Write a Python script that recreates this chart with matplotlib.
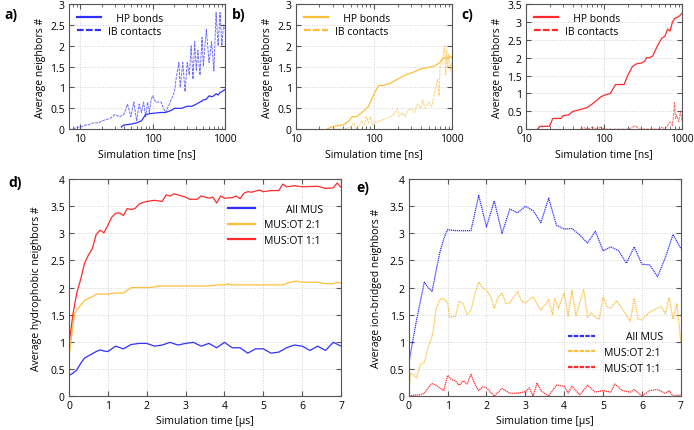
import numpy as np
import matplotlib
matplotlib.use("Agg")
import matplotlib.pyplot as plt
from matplotlib.ticker import MultipleLocator, NullFormatter

plt.rcParams['font.family'] = ['Open Sans', 'DejaVu Sans']
plt.rcParams['font.size'] = 7.5

BLUE = '#3030ff'
ORANGE = '#fdbf3a'
RED = '#ff2a2a'

# ---- panel a (All MUS, log time in ns)
a_hp_t = [37, 40, 50, 60, 70, 80, 90, 100, 130, 150, 180, 200, 250, 300, 350, 400, 450, 500,
          550, 600, 650, 700, 750, 800, 850, 900, 950, 1000]
a_hp_v = [0.05, 0.1, 0.12, 0.15, 0.2, 0.35, 0.37, 0.38, 0.4, 0.4, 0.45, 0.5, 0.5, 0.55, 0.55,
          0.6, 0.65, 0.7, 0.72, 0.8, 0.78, 0.8, 0.85, 0.82, 0.88, 0.9, 0.93, 0.95]
a_ib_t = [8, 9, 10, 12, 13, 15, 18, 20, 25, 28, 30, 35, 40, 45, 50, 55, 60, 65, 70, 75, 80,
          85, 90, 95, 100, 110, 130, 150, 170, 200, 210, 230, 240, 260, 280, 300, 320, 340,
          360, 380, 400, 420, 450, 480, 500, 550, 600, 650, 700, 750, 800, 850, 900, 950, 1000]
a_ib_v = [0.0, 0.05, 0.05, 0.1, 0.1, 0.15, 0.15, 0.2, 0.25, 0.3, 0.35, 0.3, 0.35, 0.6, 0.3,
          0.65, 0.2, 0.6, 0.4, 0.65, 0.3, 0.65, 0.4, 0.7, 0.8, 0.65, 0.65, 0.4, 0.6, 0.9, 1.2,
          1.6, 1.0, 1.6, 0.9, 1.6, 1.3, 2.0, 1.2, 2.1, 1.4, 1.9, 1.3, 2.2, 1.5, 2.4, 1.6, 2.1,
          1.4, 2.8, 2.0, 2.8, 2.0, 2.5, 2.4]

# ---- panel b (MUS:OT 2:1)
b_hp_t = [25, 28, 32, 40, 48, 52, 60, 65, 75, 85, 95, 100, 115, 130, 160, 200, 250, 300, 350,
          400, 500, 600, 700, 750, 850, 900, 950, 1000]
b_hp_v = [0.0, 0.05, 0.08, 0.1, 0.2, 0.3, 0.3, 0.35, 0.45, 0.55, 0.75, 0.85, 1.05, 1.05, 1.1,
          1.2, 1.3, 1.35, 1.4, 1.45, 1.48, 1.52, 1.6, 1.7, 1.72, 1.7, 1.75, 1.7]
b_ib_t = [30, 40, 50, 55, 60, 65, 70, 75, 80, 85, 90, 95, 100, 120, 140, 160, 180, 200, 210,
          230, 250, 270, 300, 330, 360, 400, 420, 450, 500, 550, 600, 650, 680, 700, 750, 800,
          830, 850, 880, 900, 950, 980, 1000]
b_ib_v = [0.0, 0.0, 0.05, 0.15, 0.0, 0.1, 0.2, 0.1, 0.3, 0.15, 0.3, 0.1, 0.15, 0.2, 0.25, 0.3,
          0.35, 0.5, 0.3, 0.4, 0.3, 0.45, 0.5, 0.4, 0.6, 0.5, 0.7, 0.5, 0.65, 0.55, 0.9, 1.2,
          0.8, 1.5, 1.6, 2.0, 1.3, 1.9, 1.5, 1.8, 1.4, 1.6, 1.0]

# ---- panel c (MUS:OT 1:1)
c_hp_t = [14, 15, 20, 22, 28, 30, 35, 40, 50, 60, 70, 80, 90, 100, 120, 140, 180, 200, 230,
          260, 300, 330, 350, 380, 420, 450, 500, 550, 600, 650, 700, 750, 800, 900, 950, 1000]
c_hp_v = [0.0, 0.08, 0.08, 0.3, 0.3, 0.38, 0.4, 0.5, 0.55, 0.6, 0.7, 0.8, 0.9, 0.95, 1.0,
          1.25, 1.25, 1.5, 1.75, 1.83, 1.85, 1.9, 2.0, 2.0, 2.05, 2.2, 2.4, 2.55, 2.6, 2.8,
          2.75, 3.0, 3.1, 3.15, 3.2, 3.25]
c_ib_t = [50, 55, 60, 70, 80, 90, 100, 200, 230, 250, 280, 500, 550, 600, 650, 700, 750, 800,
          820, 850, 900, 950, 1000]
c_ib_v = [0.0, 0.05, 0.0, 0.05, 0.0, 0.05, 0.0, 0.0, 0.05, 0.1, 0.0, 0.0, 0.05, 0.0, 0.1,
          0.2, 0.1, 0.75, 0.3, 0.4, 0.2, 0.5, 0.2]

# ---- panel d (hydrophobic neighbors, time in us)
d_all_t = [0, 0.1, 0.2, 0.3, 0.4, 0.5, 0.6, 0.7, 0.8, 0.9, 1.0, 1.2, 1.4, 1.6, 1.8, 2.0, 2.2,
           2.4, 2.6, 2.8, 3.0, 3.2, 3.4, 3.6, 3.8, 4.0, 4.2, 4.4, 4.6, 4.8, 5.0, 5.2, 5.4, 5.6,
           5.8, 6.0, 6.2, 6.4, 6.6, 6.8, 7.0]
d_all_v = [0.38, 0.42, 0.48, 0.6, 0.7, 0.74, 0.78, 0.82, 0.85, 0.83, 0.82, 0.92, 0.87, 0.95,
           0.97, 0.97, 0.92, 0.94, 0.99, 0.94, 0.97, 0.99, 0.92, 0.97, 0.89, 0.99, 0.89, 0.89,
           0.79, 0.87, 0.87, 0.79, 0.81, 0.89, 0.94, 0.92, 0.84, 0.92, 0.84, 0.99, 0.92]
d_21_t = [0, 0.1, 0.15, 0.2, 0.3, 0.4, 0.5, 0.6, 0.7, 0.8, 1.0, 1.2, 1.4, 1.6, 1.8, 2.0, 2.2,
          2.3, 2.6, 3.0, 3.6, 3.8, 4.0, 4.1, 4.2, 5.0, 5.5, 5.7, 5.85, 6.0, 6.4, 6.6, 6.8, 6.9, 7.0]
d_21_v = [0.72, 1.3, 1.53, 1.58, 1.68, 1.76, 1.8, 1.83, 1.88, 1.88, 1.88, 1.9, 1.9, 2.0, 2.0,
          2.0, 2.01, 2.03, 2.03, 2.03, 2.03, 2.05, 2.05, 2.07, 2.05, 2.05, 2.05, 2.1, 2.12, 2.1,
          2.1, 2.07, 2.07, 2.1, 2.08]
d_11_t = [0, 0.1, 0.2, 0.3, 0.4, 0.5, 0.6, 0.7, 0.8, 0.9, 1.0, 1.1, 1.2, 1.3, 1.4, 1.5, 1.6,
          1.7, 1.8, 1.9, 2.0, 2.2, 2.4, 2.5, 2.6, 2.7, 2.8, 3.0, 3.1, 3.3, 3.4, 3.6, 3.7, 3.8,
          3.9, 4.0, 4.2, 4.3, 4.4, 4.5, 4.6, 4.7, 4.9, 5.0, 5.2, 5.4, 5.5, 5.6, 5.8, 6.0, 6.4,
          6.6, 6.8, 6.9, 7.0]
d_11_v = [0.95, 1.5, 1.9, 2.15, 2.45, 2.6, 2.72, 2.98, 3.06, 3.01, 3.15, 3.3, 3.37, 3.38,
          3.33, 3.46, 3.44, 3.46, 3.54, 3.57, 3.59, 3.61, 3.59, 3.71, 3.69, 3.73, 3.71, 3.67,
          3.63, 3.63, 3.69, 3.65, 3.67, 3.56, 3.69, 3.65, 3.66, 3.69, 3.64, 3.74, 3.77, 3.76,
          3.8, 3.77, 3.79, 3.79, 3.91, 3.86, 3.88, 3.86, 3.87, 3.83, 3.84, 3.93, 3.85]

# ---- panel e (ion-bridged neighbors)
e_all_t = [0, 0.1, 0.2, 0.3, 0.4, 0.5, 0.6, 0.7, 0.8, 0.9, 1.0, 1.2, 1.4, 1.6, 1.8, 2.0, 2.2,
           2.4, 2.6, 2.8, 3.0, 3.2, 3.4, 3.6, 3.8, 4.0, 4.2, 4.4, 4.6, 4.8, 5.0, 5.2, 5.4, 5.6,
           5.8, 6.0, 6.2, 6.4, 6.6, 6.8, 7.0]
e_all_v = [0.6, 1.0, 1.4, 1.75, 2.1, 2.0, 1.93, 2.3, 2.65, 2.9, 3.07, 3.05, 3.05, 3.05, 3.7,
           3.12, 3.6, 3.0, 3.45, 3.38, 3.5, 3.42, 3.2, 3.65, 3.15, 3.08, 3.09, 2.97, 2.82, 3.04,
           2.68, 2.75, 2.68, 2.45, 2.75, 2.43, 2.42, 2.2, 2.55, 2.98, 2.72]
e_21_t = [0, 0.05, 0.1, 0.2, 0.3, 0.4, 0.5, 0.6, 0.65, 0.7, 0.8, 0.9, 1.0, 1.05, 1.2, 1.3, 1.4,
          1.5, 1.6, 1.7, 1.8, 1.9, 2.0, 2.1, 2.2, 2.3, 2.4, 2.5, 2.6, 2.8, 2.9, 3.0, 3.2, 3.4,
          3.6, 3.7, 3.75, 3.85, 3.9, 4.0, 4.1, 4.2, 4.3, 4.4, 4.5, 4.6, 4.7, 4.8, 4.9, 5.0, 5.1,
          5.2, 5.35, 5.5, 5.7, 5.8, 5.9, 6.0, 6.2, 6.4, 6.5, 6.6, 6.7, 6.8, 6.9, 7.0]
e_21_v = [0.1, 0.42, 0.4, 0.34, 0.58, 0.62, 0.9, 1.1, 1.3, 1.6, 1.78, 1.8, 1.72, 1.45, 1.47,
          1.75, 1.7, 1.5, 1.58, 1.88, 2.1, 2.0, 1.95, 1.85, 1.62, 1.82, 1.9, 1.7, 1.72, 1.93,
          1.75, 1.72, 1.83, 1.58, 1.78, 1.5, 1.8, 1.62, 1.72, 1.9, 1.48, 1.95, 1.48, 1.72, 1.97,
          1.45, 1.53, 1.45, 1.42, 1.82, 1.65, 1.62, 1.76, 1.6, 1.38, 1.8, 1.42, 1.4, 1.55, 1.62,
          1.65, 1.52, 1.82, 1.42, 1.7, 1.0]
e_11_t = [0, 0.2, 0.3, 0.4, 0.5, 0.6, 0.7, 0.8, 0.9, 1.0, 1.1, 1.2, 1.3, 1.4, 1.5, 1.6, 1.7,
          1.8, 1.9, 2.0, 2.2, 2.4, 2.6, 2.8, 3.0, 3.1, 3.2, 3.3, 3.4, 3.6, 3.8, 4.0, 4.1, 4.2,
          4.4, 4.6, 4.8, 5.0, 5.2, 5.3, 5.5, 5.7, 5.8, 6.0, 6.2, 6.4, 6.6, 6.7, 6.8, 7.0]
e_11_v = [0.0, 0.02, 0.02, 0.05, 0.15, 0.23, 0.2, 0.15, 0.1, 0.38, 0.3, 0.28, 0.2, 0.28, 0.22,
          0.4, 0.22, 0.1, 0.17, 0.15, 0.0, 0.14, 0.05, 0.05, 0.08, 0.15, 0.0, 0.24, 0.1, 0.0,
          0.2, 0.18, 0.05, 0.18, 0.02, 0.2, 0.07, 0.1, 0.07, 0.22, 0.1, 0.07, 0.12, 0.0, 0.1,
          0.12, 0.05, 0.1, 0.0, 0.02]

fmt = plt.FuncFormatter(lambda v, p: '%g' % v)


def style(ax):
    ax.tick_params(which='both', direction='in', top=True, right=True, labelsize=7.5,
                   color='#555555', pad=3)
    ax.grid(True, color='#d0d0d0', linestyle=':', linewidth=0.7)
    for s in ax.spines.values():
        s.set_color('#555555')
        s.set_linewidth(0.8)


fig = plt.figure(figsize=(6.94, 4.31), dpi=100)

tops = [(0.0994, 'a)', a_hp_t, a_hp_v, a_ib_t, a_ib_v, BLUE, 7, 3.0),
        (0.4265, 'b)', b_hp_t, b_hp_v, b_ib_t, b_ib_v, ORANGE, 10, 3.0),
        (0.758, 'c)', c_hp_t, c_hp_v, c_ib_t, c_ib_v, RED, 10, 3.5)]
for left, lab, ht, hv, it, iv, col, x0, ymax in tops:
    ax = fig.add_axes([left, 0.698, 0.225, 0.29])
    ax.plot(ht, hv, color=col, lw=0.9, label='   HP bonds')
    ax.plot(it, iv, color=col, lw=0.7, ls=(0, (3, 1)), alpha=0.7, label='IB contacts')
    ax.set_xscale('log')
    ax.set_xlim(x0, 1000)
    ax.set_ylim(0, ymax)
    ax.yaxis.set_major_locator(MultipleLocator(0.5))
    ax.yaxis.set_major_formatter(fmt)
    ax.xaxis.set_major_formatter(fmt)
    ax.xaxis.set_minor_formatter(NullFormatter())
    style(ax)
    ax.set_xlabel('Simulation time [ns]', labelpad=3)
    ax.set_ylabel('Average neighbors #', labelpad=3)
    leg = ax.legend(loc='upper left', frameon=False, handlelength=2.3, handletextpad=0.6,
                    borderaxespad=0.4, labelspacing=0.25)
    for h in leg.get_lines():
        h.set_linewidth(1.6)
        h.set_alpha(1)
    fig.text(left - 0.093, 0.955, lab, fontsize=10, fontweight='bold')

# bottom panels
ax = fig.add_axes([0.0994, 0.0789, 0.392, 0.503])
ax.plot(d_all_t, d_all_v, color=BLUE, lw=0.9, label='        All MUS')
ax.plot(d_21_t, d_21_v, color=ORANGE, lw=0.9, label='MUS:OT 2:1')
ax.plot(d_11_t, d_11_v, color=RED, lw=0.9, label='MUS:OT 1:1')
ax.set_xlim(0, 7)
ax.set_ylim(0, 4)
ax.yaxis.set_major_locator(MultipleLocator(0.5))
ax.yaxis.set_major_formatter(fmt)
style(ax)
ax.set_xlabel('Simulation time [µs]', labelpad=3)
ax.set_ylabel('Average hydrophobic neighbors #', labelpad=6)
leg = ax.legend(loc='upper right', bbox_to_anchor=(0.97, 0.93), frameon=False,
                handlelength=2.6, handletextpad=0.9, labelspacing=0.45)
for h in leg.get_lines():
    h.set_linewidth(1.6)
fig.text(0.012, 0.565, 'd)', fontsize=10, fontweight='bold')

ax = fig.add_axes([0.589, 0.0789, 0.392, 0.503])
ax.plot(e_all_t, e_all_v, color=BLUE, lw=0.9, ls=(0, (1, 0.6)), label='        All MUS')
ax.plot(e_21_t, e_21_v, color=ORANGE, lw=0.9, ls=(0, (1, 0.6)), label='MUS:OT 2:1')
ax.plot(e_11_t, e_11_v, color=RED, lw=0.9, ls=(0, (1, 0.6)), label='MUS:OT 1:1')
ax.set_xlim(0, 7)
ax.set_ylim(0, 4)
ax.yaxis.set_major_locator(MultipleLocator(0.5))
ax.yaxis.set_major_formatter(fmt)
style(ax)
ax.set_xlabel('Simulation time [µs]', labelpad=3)
ax.set_ylabel('Average ion-bridged neighbors #', labelpad=6)
leg = ax.legend(loc='lower right', bbox_to_anchor=(0.97, 0.06), frameon=False,
                handlelength=2.6, handletextpad=0.9, labelspacing=0.45)
for h in leg.get_lines():
    h.set_linestyle((0, (2, 0.6)))
    h.set_linewidth(1.6)
fig.text(0.514, 0.555, 'e)', fontsize=10, fontweight='bold')

fig.savefig('out.png', dpi=100)
